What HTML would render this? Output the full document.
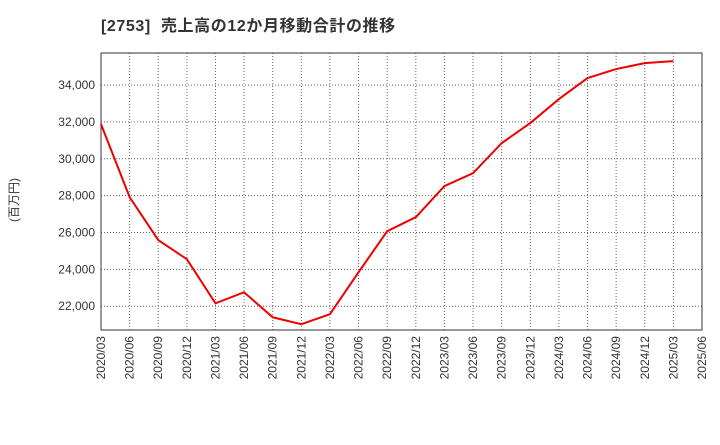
<!DOCTYPE html>
<html><head><meta charset="utf-8"><style>
body{margin:0;background:#fff;font-family:"Liberation Sans","Noto Sans CJK JP",sans-serif;}
</style></head><body>
<svg width="720" height="440" xmlns="http://www.w3.org/2000/svg" id="svg">
<text x="101" y="31" font-size="16" letter-spacing="0.6" font-weight="bold" fill="#333" font-family="Liberation Sans, Noto Sans CJK JP, sans-serif" xml:space="preserve">[2753]  売上高の12か月移動合計の推移</text>
<text x="18" y="200" font-size="12" fill="#333" transform="rotate(-90 18 200)" text-anchor="middle" font-family="Liberation Sans, Noto Sans CJK JP, sans-serif">(百万円)</text>
<g id="grid"></g><g id="axes"></g><g id="series"></g>
</svg>
<script>
const categories=["2020/03","2020/06","2020/09","2020/12","2021/03","2021/06","2021/09","2021/12","2022/03","2022/06","2022/09","2022/12","2023/03","2023/06","2023/09","2023/12","2024/03","2024/06","2024/09","2024/12","2025/03","2025/06"];
const salesValues=[31880,27920,25590,24550,22160,22760,21400,21025,21570,23850,26070,26830,28520,29220,30850,31940,33240,34380,34870,35190,35300];
const yTicks=[22000,24000,26000,28000,30000,32000,34000];
const ns="http://www.w3.org/2000/svg";
const L=101,R=702,T=53,B=330,yMin=20710,yMax=35740;
const xs=i=>L+(R-L)*i/(categories.length-1);
const ys=v=>B-(v-yMin)/(yMax-yMin)*(B-T);
function mk(tag,attrs,parent){const e=document.createElementNS(ns,tag);for(const k in attrs)e.setAttribute(k,attrs[k]);document.getElementById(parent).appendChild(e);return e;}
categories.forEach((c,i)=>{
 const g=mk('line',{x1:xs(i),x2:xs(i),y1:T,y2:B,stroke:'#666','stroke-dasharray':'1,2','stroke-width':1},'grid');
 
 
 const t=mk('text',{x:0,y:0,'font-size':12,fill:'#333','text-anchor':'end',transform:`translate(${xs(i)+4},${B+6}) rotate(-90)`},'axes');
 t.textContent=c;
 
 
});
yTicks.forEach(v=>{
 const g=mk('line',{x1:L,x2:R,y1:ys(v),y2:ys(v),stroke:'#666','stroke-dasharray':'1,2','stroke-width':1},'grid');
 
 
 const t=mk('text',{x:L-6,y:ys(v)+4,'font-size':12,fill:'#333','text-anchor':'end'},'axes');
 t.textContent=v.toLocaleString('en-US');
 
 
});
const fr=mk('rect',{x:L,y:T,width:R-L,height:B-T,fill:'none',stroke:'#333','stroke-width':1},'axes');


const pl=mk('polyline',{points:salesValues.map((v,i)=>xs(i)+','+ys(v)).join(' '),fill:'none',stroke:'#ee0000','stroke-width':2},'series');


</script>
</body></html>
